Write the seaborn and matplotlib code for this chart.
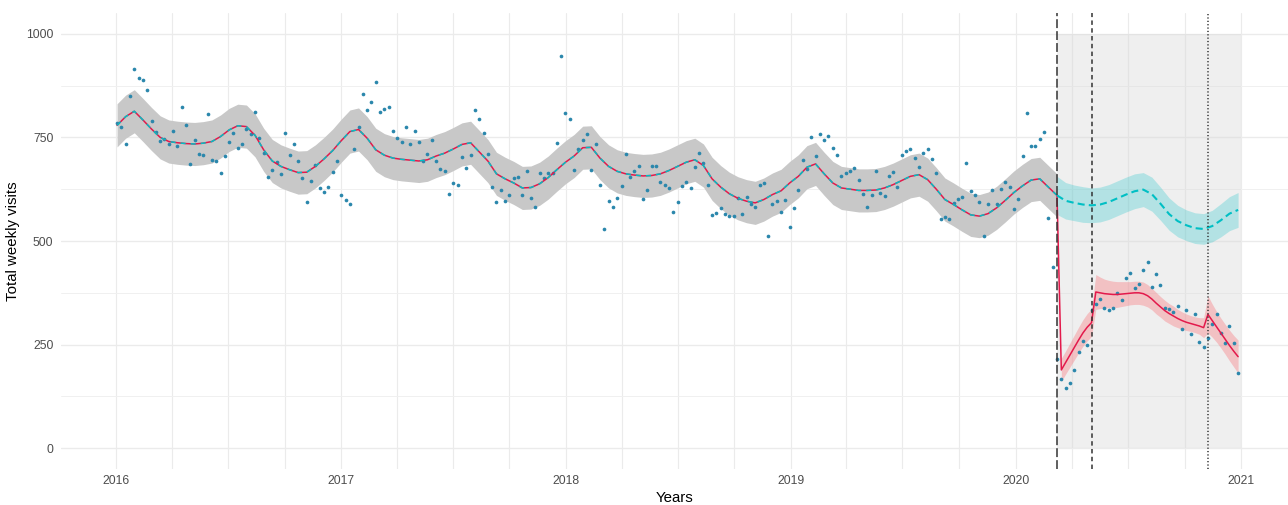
import numpy as np
import pandas as pd
import matplotlib
matplotlib.use("Agg")
import matplotlib.pyplot as plt
import matplotlib.dates as mdates
from matplotlib.ticker import FixedLocator
import seaborn as sns

# Observed weekly visit totals, one value per week starting 2016-01-03
weekly_visits = [
    785, 775, 734, 850, 915, 894, 888, 865, 790, 763,
    741, 746, 734, 766, 729, 824, 779, 686, 744, 709,
    707, 806, 695, 692, 663, 705, 738, 761, 725, 734,
    771, 758, 811, 749, 713, 654, 672, 691, 662, 761,
    708, 734, 692, 652, 594, 644, 684, 628, 617, 630,
    667, 692, 610, 599, 589, 723, 775, 854, 816, 835,
    884, 811, 819, 824, 765, 749, 739, 776, 735, 765,
    739, 692, 711, 743, 693, 674, 670, 613, 641, 636,
    703, 677, 708, 817, 795, 761, 711, 630, 593, 622,
    596, 611, 651, 654, 611, 668, 603, 581, 665, 651,
    665, 665, 737, 947, 809, 795, 672, 722, 743, 757,
    672, 735, 635, 529, 596, 581, 603, 632, 709, 655,
    668, 680, 602, 623, 682, 680, 643, 636, 629, 571,
    594, 633, 643, 629, 678, 713, 688, 634, 563, 567,
    579, 566, 560, 560, 604, 565, 606, 590, 582, 636,
    640, 513, 590, 596, 570, 599, 534, 580, 623, 696,
    673, 751, 704, 759, 743, 754, 725, 708, 656, 664,
    670, 676, 647, 614, 581, 610, 668, 616, 608, 658,
    666, 631, 708, 718, 722, 700, 678, 713, 723, 698,
    663, 554, 557, 553, 591, 602, 607, 687, 621, 611,
    594, 511, 590, 624, 590, 626, 643, 631, 576, 602,
    705, 808, 729, 729, 746, 762, 556, 438, 215, 166,
    146, 158, 190, 233, 259, 250, 334, 348, 361, 339,
    334, 339, 375, 357, 411, 422, 386, 396, 431, 450,
    390, 421, 394, 339, 337, 329, 344, 288, 333, 276,
    324, 256, 245, 265, 300, 324, 279, 254, 296, 253,
    181,
]

# Model fit before the first intervention, every second week from 2016-01-03
fit_pre = [
    779, 800, 813, 792, 770, 750, 740, 737, 735, 734,
    736, 740, 752, 768, 778, 776, 755, 720, 693, 680,
    672, 665, 666, 680, 698, 718, 742, 764, 769, 748,
    720, 707, 700, 697, 695, 693, 696, 705, 712, 722,
    733, 737, 715, 693, 662, 650, 640, 628, 629, 638,
    653, 672, 690, 705, 725, 726, 700, 680, 668, 662,
    659, 657, 658, 662, 670, 680, 690, 696, 682, 650,
    630, 614, 603, 596, 592, 600, 612, 621, 640, 656,
    678, 686, 662, 640, 628, 625, 622, 622, 623, 628,
    636, 646, 656, 660, 648, 625, 600, 588, 575, 563,
    560, 566, 580, 598, 617, 633, 647, 650, 630, 610,
]
fit_pre_band = 52

# Counterfactual trend after the first intervention, every second week from 2020-03-08
counterfactual = [
    610, 597, 592, 588, 586, 588, 594, 603, 612, 620,
    624, 613, 590, 565, 548, 538, 531, 529, 536, 550,
    566, 575,
]
counterfactual_band = [
    46, 44, 43, 43, 42, 42, 42, 42, 42, 42,
    41, 41, 40, 39, 38, 37, 37, 37, 38, 40,
    41, 42,
]

# Fitted values after the first intervention, weekly from 2020-03-15
fit_post = [
    189, 207, 225, 243, 261, 278, 292, 303, 377, 375,
    373, 372, 371, 371, 372, 373, 374, 375, 375, 373,
    368, 360, 350, 341, 332, 325, 319, 313, 308, 304,
    301, 298, 295, 291, 323, 308, 293, 278, 263, 248,
    234, 221,
]
fit_post_band = [
    28, 28, 29, 30, 31, 32, 33, 33, 42, 38,
    35, 33, 32, 31, 30, 29, 28, 28, 28, 28,
    27, 26, 26, 25, 25, 24, 24, 22, 21, 20,
    19, 19, 20, 24, 45, 40, 37, 36, 36, 37,
    38, 40,
]

intervention_dates = ["2020-03-08", "2020-05-03", "2020-11-08"]
intervention_dashes = [(0, (5.8, 2.0)), (0, (2.9, 2.2)), (0, (0.8, 1.4))]
shade_end = "2021-01-01"

x_ticks = ["2016", "2017", "2018", "2019", "2020", "2021"]
y_ticks = [0, 250, 500, 750, 1000]

# ---------------------------------------------------------------------------
obs = pd.DataFrame({
    "date": pd.date_range("2016-01-03", periods=len(weekly_visits), freq="7D"),
    "visits": weekly_visits,
})
pre = pd.DataFrame({
    "date": pd.date_range("2016-01-03", periods=len(fit_pre), freq="14D"),
    "fit": fit_pre,
})
pre["lo"] = pre["fit"] - fit_pre_band
pre["hi"] = pre["fit"] + fit_pre_band

cf = pd.DataFrame({
    "date": pd.date_range(intervention_dates[0], periods=len(counterfactual), freq="14D"),
    "fit": counterfactual,
    "band": counterfactual_band,
})
post = pd.DataFrame({
    "date": pd.date_range("2020-03-15", periods=len(fit_post), freq="7D"),
    "fit": fit_post,
    "band": fit_post_band,
})
red_line = pd.concat([pre[["date", "fit"]], post[["date", "fit"]]], ignore_index=True)

sns.set_theme(style="white")
plt.rcParams["font.family"] = ["Liberation Sans", "DejaVu Sans"]

W, H = 1288, 505
fig = plt.figure(figsize=(W / 100, H / 100), dpi=100)
ax = fig.add_axes([61 / W, 1 - 469 / H, 1 - 61 / W, (469 - 13) / H])

RED = "#E3194B"
CYAN = "#00BFC4"
POINT = "#2B87AC"

# shaded post-intervention window
ax.fill_between([pd.Timestamp(intervention_dates[0]), pd.Timestamp(shade_end)],
                0, 1000, color="#D9D9D9", alpha=0.42, lw=0, zorder=1)

# uncertainty ribbons
ax.fill_between(pre["date"], pre["lo"], pre["hi"], color="#C8C8C8", lw=0, zorder=2)
ax.fill_between(cf["date"], cf["fit"] - cf["band"], cf["fit"] + cf["band"],
                color=CYAN, alpha=0.25, lw=0, zorder=2)
ax.fill_between(post["date"], post["fit"] - post["band"], post["fit"] + post["band"],
                color="#F8767D", alpha=0.38, lw=0, zorder=2)

# observed weekly totals
sns.scatterplot(data=obs, x="date", y="visits", ax=ax, color=POINT, s=7,
                linewidth=0, zorder=3, legend=False)

# fitted trend (solid) with the counterfactual trend drawn dashed on top
sns.lineplot(data=red_line, x="date", y="fit", ax=ax, color=RED, lw=1.1,
             zorder=4, legend=False)
sns.lineplot(data=pre, x="date", y="fit", ax=ax, color=CYAN, lw=1.1,
             linestyle=(0, (3.3, 3.3)), zorder=5, legend=False)
sns.lineplot(data=cf, x="date", y="fit", ax=ax, color=CYAN, lw=1.5,
             linestyle=(0, (3.4, 2.0)), zorder=5, legend=False)

for d, ls in zip(intervention_dates, intervention_dashes):
    ax.axvline(pd.Timestamp(d), color="#333333", lw=1.1, linestyle=ls, zorder=6)

# axes, ticks and grid
ax.set_xlim(pd.Timestamp("2015-10-04"), pd.Timestamp("2021-03-18"))
ax.set_ylim(-50, 1050)
ax.xaxis.set_major_locator(FixedLocator([mdates.date2num(pd.Timestamp(f"{y}-01-01")) for y in x_ticks]))
ax.set_xticklabels(x_ticks)
ax.xaxis.set_minor_locator(mdates.MonthLocator(bymonth=[4, 7, 10]))
ax.set_yticks(y_ticks)
ax.set_yticklabels([str(v) for v in y_ticks])
ax.yaxis.set_minor_locator(FixedLocator([125, 375, 625, 875]))

ax.set_axisbelow(True)
ax.grid(which="major", axis="x", color="#EBEBEB", lw=0.8)
ax.grid(which="minor", axis="x", color="#EBEBEB", lw=0.8)
ax.grid(which="major", axis="y", color="#EBEBEB", lw=1.0)
ax.grid(which="minor", axis="y", color="#F0F0F0", lw=0.7)
for s in ax.spines.values():
    s.set_visible(False)

ax.tick_params(axis="both", which="both", length=0, labelsize=8.8, labelcolor="#4D4D4D")
ax.tick_params(axis="x", pad=4)
ax.tick_params(axis="y", pad=5.5)
ax.set_xlabel("Years", fontsize=10.8, color="black", labelpad=3)
ax.set_ylabel("Total weekly visits", fontsize=10.8, color="black", labelpad=4)

fig.savefig("out.png", dpi=100)
